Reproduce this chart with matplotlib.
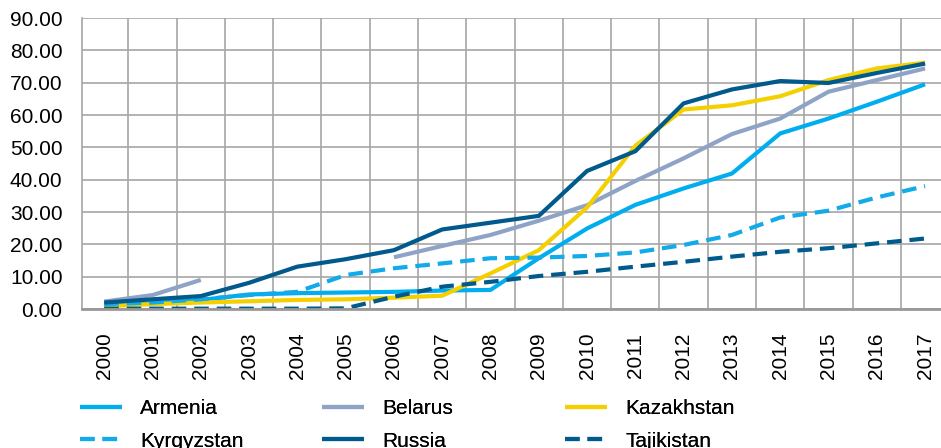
import numpy as np
import matplotlib
matplotlib.use('Agg')
import matplotlib.pyplot as plt

plt.rcParams['font.family'] = ['Liberation Sans', 'DejaVu Sans']

years = [str(y) for y in range(2000, 2018)]

armenia = [1.2, 1.8, 2.8, 4.5, 4.9, 5.1, 5.3, 5.7, 5.9, 15.7, 24.9, 32.2,
           37.3, 41.9, 54.3, 58.9, 64.1, 69.5]
belarus = [2.3, 4.3, 9.0, np.nan, np.nan, np.nan, 16.0, 19.5, 22.9, 27.3,
           32.1, 39.6, 46.6, 54.1, 58.9, 67.2, 70.8, 74.4]
kazakhstan = [0.9, 1.5, 2.0, 2.4, 2.8, 3.0, 3.5, 4.1, 11.0, 18.2, 31.4,
              50.5, 61.7, 63.0, 65.8, 70.8, 74.4, 76.2]
kyrgyzstan = [1.5, 2.0, 3.0, 4.3, 5.3, 10.5, 12.6, 14.1, 15.7, 15.9, 16.4,
              17.5, 19.8, 22.9, 28.3, 30.4, 34.5, 38.0]
russia = [2.0, 3.0, 4.0, 8.1, 13.1, 15.4, 18.2, 24.6, 26.7, 28.8, 42.7,
          48.8, 63.6, 67.9, 70.5, 69.9, 73.0, 75.9]
tajikistan = [0.1, 0.1, 0.1, 0.1, 0.1, 0.2, 3.8, 6.9, 8.4, 10.2, 11.5,
              13.1, 14.6, 16.2, 17.7, 18.8, 20.3, 21.8]

series = [
    ('Armenia', armenia, '#00aeef', '-'),
    ('Belarus', belarus, '#8ea3c6', '-'),
    ('Kazakhstan', kazakhstan, '#f5d000', '-'),
    ('Kyrgyzstan', kyrgyzstan, '#12aae8', '--'),
    ('Russia', russia, '#005a8c', '-'),
    ('Tajikistan', tajikistan, '#005a8c', '--'),
]

fig = plt.figure(figsize=(9.41, 4.48), dpi=100)
ax = fig.add_axes([82 / 941, 1 - 309 / 448, 1 - 82 / 941, 291 / 448])

x = np.arange(len(years))
handles = []
for name, vals, col, ls in series:
    ln, = ax.plot(x, vals, color=col, lw=3, linestyle=ls, label=name,
                  solid_capstyle='butt')
    if ls == '--':
        ln.set_dashes((3.5, 1.9))
    handles.append(ln)

ax.set_xlim(-0.46, 17.33)
ax.set_ylim(0, 90)
ax.set_yticks(np.arange(0, 91, 10))
ax.set_yticklabels(['%.2f' % v for v in np.arange(0, 91, 10)])
ax.set_xticks(x)
ax.set_xticklabels(years, rotation=90)
ax.set_xticks(x[:-1] + 0.5, minor=True)
ax.tick_params(axis='both', which='both', length=0, labelsize=15)
ax.tick_params(axis='x', pad=17)
ax.tick_params(axis='y', pad=14)
ax.grid(axis='y', color='#a6a6a6', lw=1.2)
ax.grid(axis='x', which='minor', color='#a6a6a6', lw=1.2)
ax.set_axisbelow(True)
for s in ['top', 'right']:
    ax.spines[s].set_visible(False)
ax.spines['left'].set_color('#a6a6a6')
ax.spines['left'].set_linewidth(1.2)
ax.spines['bottom'].set_color('#999999')
ax.spines['bottom'].set_linewidth(2)

# legend: three columns with fixed positions
col_x = [80 / 941, 322 / 941, 565 / 941]
for i, cx in enumerate(col_x):
    hs = [handles[i], handles[i + 3]]
    leg = fig.legend(handles=hs, labels=[h.get_label() for h in hs],
                     loc='upper left', bbox_to_anchor=(cx, 1 - 399 / 448),
                     frameon=False, fontsize=15, handlelength=2.0,
                     handletextpad=0.9, labelspacing=0.65, borderpad=0,
                     borderaxespad=0)
    fig.add_artist(leg)

fig.savefig('out.png', dpi=100)
